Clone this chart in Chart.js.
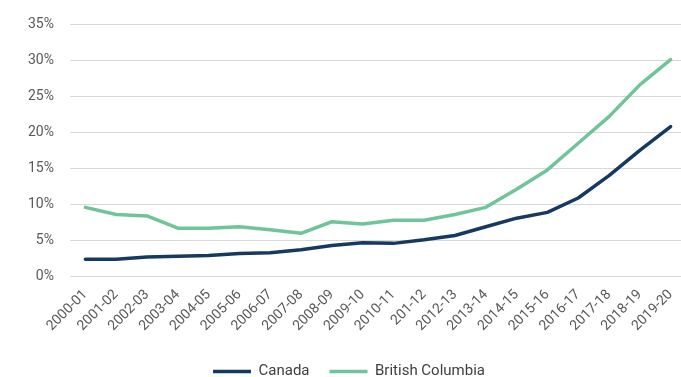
<!DOCTYPE html>
<html>
<head>
<meta charset="utf-8">
<script src="https://cdn.jsdelivr.net/npm/chart.js@4.4.1/dist/chart.umd.min.js"></script>
<style>
  html, body { margin: 0; padding: 0; background: #fff; overflow: hidden; }
  #wrap { width: 686px; height: 389px; }
</style>
</head>
<body>
<div id="wrap"><canvas id="chart"></canvas></div>
<script>
// school years (x axis), label "201-12" kept as in the source
const years = ['2000-01','2001-02','2002-03','2003-04','2004-05','2005-06','2006-07','2007-08','2008-09','2009-10',
               '2010-11','201-12','2012-13','2013-14','2014-15','2015-16','2016-17','2017-18','2018-19','2019-20']

// percent values
const canada = [2.4, 2.4, 2.7, 2.8, 2.9, 3.2, 3.3, 3.7, 4.3, 4.7,
                4.6, 5.1, 5.7, 6.9, 8.1, 8.9, 10.9, 14.0, 17.5, 20.8]
const britishColumbia = [9.6, 8.6, 8.4, 6.7, 6.7, 6.9, 6.5, 6.0, 7.6, 7.3,
                         7.8, 7.8, 8.6, 9.6, 12.1, 14.8, 18.5, 22.2, 26.6, 30.1]

const yTicks = [0, 5, 10, 15, 20, 25, 30, 35]

Chart.defaults.font.family = 'Roboto, "Liberation Sans", sans-serif'
Chart.defaults.font.size = 14
Chart.defaults.color = '#595959'

new Chart(document.getElementById('chart'), {
  type: 'line',
  data: {
    labels: years,
    datasets: [
      { label: 'Canada', data: canada, borderColor: '#163a5f', backgroundColor: '#163a5f', borderWidth: 3.5 },
      { label: 'British Columbia', data: britishColumbia, borderColor: '#70c49b', backgroundColor: '#70c49b', borderWidth: 3.5 }
    ]
  },
  options: {
    responsive: true,
    maintainAspectRatio: false,
    animation: false,
    layout: { autoPadding: false, padding: { left: 12, top: 20, right: 0, bottom: 0 } },
    elements: {
      point: { radius: 0 },
      line: { tension: 0, borderCapStyle: 'round', borderJoinStyle: 'round' }
    },
    plugins: {
      tooltip: { enabled: false },
      legend: {
        position: 'bottom',
        labels: {
          usePointStyle: true,
          pointStyle: 'line',
          pointStyleWidth: 38,
          color: '#404040',
          padding: 20,
          font: { size: 15 }
        }
      }
    },
    scales: {
      x: {
        offset: true,
        grid: { display: false },
        border: { display: false },
        ticks: { maxRotation: 45, minRotation: 45, autoSkip: false, padding: 2 },
        afterFit: s => { s.height = 67.5 }
      },
      y: {
        min: 0,
        max: 35,
        afterBuildTicks: s => { s.ticks = yTicks.map(v => ({ value: v })) },
        grid: { color: '#d9d9d9', lineWidth: 1, drawTicks: false },
        border: { display: false },
        ticks: { padding: 16, callback: v => v + '%' }
      }
    }
  }
})
</script>
</body>
</html>
